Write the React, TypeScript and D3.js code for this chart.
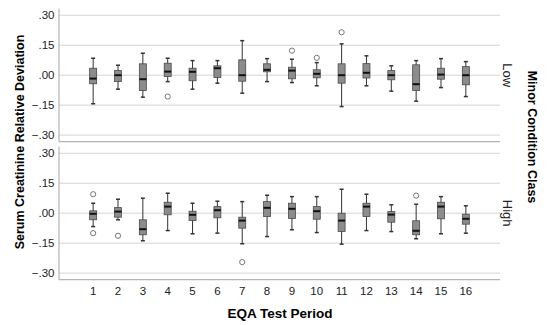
import React, { useEffect, useRef } from 'react';
import * as d3 from 'd3';

// EQA periods along the x axis
const periods = ['1', '2', '3', '4', '5', '6', '7', '8', '9', '10', '11', '12', '13', '14', '15', '16'];
const classes = ['Low', 'High'];
const yTicks = [0.3, 0.15, 0, -0.15, -0.3];

// Low minor condition class
const lowMax = [0.085, 0.05, 0.11, 0.085, 0.073, 0.073, 0.173, 0.083, 0.08, 0.063, 0.157, 0.097, 0.047, 0.073, 0.083, 0.068];
const lowQ3 = [0.035, 0.023, 0.057, 0.06, 0.035, 0.047, 0.077, 0.057, 0.04, 0.027, 0.057, 0.058, 0.023, 0.052, 0.035, 0.043];
const lowMedian = [-0.017, 0.0, -0.02, 0.018, 0.017, 0.035, 0.0, 0.027, 0.023, 0.007, 0.0, 0.012, 0.0, -0.045, 0.003, 0.0];
const lowQ1 = [-0.043, -0.032, -0.077, -0.007, -0.028, -0.012, -0.03, 0.017, -0.018, -0.013, -0.04, -0.014, -0.023, -0.077, -0.02, -0.048];
const lowMin = [-0.143, -0.07, -0.11, -0.032, -0.07, -0.04, -0.09, -0.032, -0.037, -0.053, -0.157, -0.053, -0.08, -0.13, -0.062, -0.107];
const lowOutliers = [[], [], [], [-0.107], [], [], [], [], [0.123], [0.087], [0.215], [], [], [], [], []];

// High minor condition class
const highMax = [0.05, 0.07, 0.075, 0.1, 0.05, 0.06, 0.058, 0.09, 0.083, 0.083, 0.12, 0.095, 0.042, 0.045, 0.083, 0.037];
const highQ3 = [0.012, 0.028, -0.033, 0.055, 0.01, 0.033, -0.02, 0.058, 0.05, 0.033, 0.0, 0.05, 0.008, -0.038, 0.055, -0.005];
const highMedian = [-0.003, 0.008, -0.08, 0.033, -0.008, 0.015, -0.037, 0.027, 0.022, 0.01, -0.037, 0.033, -0.007, -0.088, 0.033, -0.028];
const highQ1 = [-0.033, -0.02, -0.108, -0.008, -0.037, -0.023, -0.075, -0.017, -0.027, -0.03, -0.092, -0.017, -0.045, -0.108, -0.028, -0.055];
const highMin = [-0.067, -0.033, -0.138, -0.087, -0.103, -0.1, -0.153, -0.117, -0.083, -0.097, -0.155, -0.087, -0.092, -0.128, -0.103, -0.1];
const highOutliers = [[0.095, -0.1], [-0.113], [], [], [], [], [-0.245], [], [], [], [], [], [], [0.088], [], []];

const FONT = '"Liberation Sans", Arial, sans-serif';

function App() {
    const ref = useRef<SVGSVGElement | null>(null);

    useEffect(() => {
        const left = 59;
        const right = 500;
        const panelH = 133;
        const panelTops = [8.7, 146.7];

        const svg = d3.select(ref.current);
        svg.selectAll('*').remove();

        const x = d3.scalePoint<string>().domain(periods).range([left, right]).padding(1.375);

        const panels = [
            { max: lowMax, q3: lowQ3, med: lowMedian, q1: lowQ1, min: lowMin, out: lowOutliers },
            { max: highMax, q3: highQ3, med: highMedian, q1: highQ1, min: highMin, out: highOutliers },
        ];

        panels.forEach((p, pi) => {
            const top = panelTops[pi];
            const y = d3.scaleLinear().domain([-0.333, 0.333]).range([top + panelH, top]);
            const g = svg.append('g');

            // gridlines
            g.selectAll('.grid')
                .data(yTicks)
                .enter()
                .append('line')
                .attr('x1', left)
                .attr('x2', right)
                .attr('y1', d => y(d))
                .attr('y2', d => y(d))
                .attr('stroke', '#d6d6d6')
                .attr('stroke-width', 1);

            // frame: left axis + bottom line
            g.append('line')
                .attr('x1', left).attr('x2', left)
                .attr('y1', top).attr('y2', top + panelH)
                .attr('stroke', '#b4b4b4').attr('stroke-width', 1.2);
            g.append('line')
                .attr('x1', left).attr('x2', right)
                .attr('y1', top + panelH).attr('y2', top + panelH)
                .attr('stroke', '#b4b4b4').attr('stroke-width', 1.2);

            // tick labels
            g.selectAll('.ylab')
                .data(yTicks)
                .enter()
                .append('text')
                .attr('x', left - 4.5)
                .attr('y', d => y(d))
                .attr('dy', '0.35em')
                .attr('text-anchor', 'end')
                .style('font-family', FONT)
                .style('font-size', '11.5px')
                .attr('fill', '#222')
                .text(d => d3.format('.2f')(d).replace('0.', '.'));

            // facet label
            g.append('text')
                .attr('transform', `translate(${508}, ${top + panelH / 2}) rotate(90)`)
                .attr('text-anchor', 'middle')
                .attr('dy', '0.35em')
                .style('font-family', FONT)
                .style('font-size', '13px')
                .attr('fill', '#222')
                .text(classes[pi]);

            const boxW = 7;
            const capW = 4;
            const boxes = g.selectAll('.box')
                .data(periods)
                .enter()
                .append('g')
                .attr('transform', d => `translate(${x(d)},0)`);

            boxes.append('line')
                .attr('x1', 0).attr('x2', 0)
                .attr('y1', (d, i) => y(p.max[i]))
                .attr('y2', (d, i) => y(p.min[i]))
                .attr('stroke', '#333').attr('stroke-width', 1);
            boxes.append('line')
                .attr('x1', -capW / 2).attr('x2', capW / 2)
                .attr('y1', (d, i) => y(p.max[i])).attr('y2', (d, i) => y(p.max[i]))
                .attr('stroke', '#333').attr('stroke-width', 1.5);
            boxes.append('line')
                .attr('x1', -capW / 2).attr('x2', capW / 2)
                .attr('y1', (d, i) => y(p.min[i])).attr('y2', (d, i) => y(p.min[i]))
                .attr('stroke', '#333').attr('stroke-width', 1.5);
            boxes.append('rect')
                .attr('x', -boxW / 2)
                .attr('width', boxW)
                .attr('y', (d, i) => y(p.q3[i]))
                .attr('height', (d, i) => y(p.q1[i]) - y(p.q3[i]))
                .attr('fill', '#8c8c8c')
                .attr('stroke', '#4a4a4a')
                .attr('stroke-width', 0.8);
            boxes.append('line')
                .attr('x1', -boxW / 2).attr('x2', boxW / 2)
                .attr('y1', (d, i) => y(p.med[i])).attr('y2', (d, i) => y(p.med[i]))
                .attr('stroke', '#111').attr('stroke-width', 2);
            boxes.each(function (d, i) {
                d3.select(this).selectAll('circle')
                    .data(p.out[i])
                    .enter()
                    .append('circle')
                    .attr('cx', 0)
                    .attr('cy', v => y(v))
                    .attr('r', 2.6)
                    .attr('fill', 'none')
                    .attr('stroke', '#777')
                    .attr('stroke-width', 1);
            });
        });

        // x tick labels
        svg.selectAll('.xlab')
            .data(periods)
            .enter()
            .append('text')
            .attr('x', d => x(d) as number)
            .attr('y', 295)
            .attr('text-anchor', 'middle')
            .style('font-family', FONT)
            .style('font-size', '11.5px')
            .attr('fill', '#222')
            .text(d => d);

        // axis titles
        svg.append('text')
            .attr('x', 280)
            .attr('y', 318)
            .attr('text-anchor', 'middle')
            .style('font-family', FONT)
            .style('font-size', '13.5px')
            .style('font-weight', 'bold')
            .text('EQA Test Period');

        svg.append('text')
            .attr('transform', `translate(20, 142) rotate(-90)`)
            .attr('text-anchor', 'middle')
            .attr('dy', '0.35em')
            .style('font-family', FONT)
            .style('font-size', '12.5px')
            .style('font-weight', 'bold')
            .text('Serum Creatinine Relative Deviation');

        svg.append('text')
            .attr('transform', `translate(532, 137) rotate(90)`)
            .attr('text-anchor', 'middle')
            .attr('dy', '0.35em')
            .style('font-family', FONT)
            .style('font-size', '12.5px')
            .style('font-weight', 'bold')
            .text('Minor Condition Class');
    }, []);

    return (
        <svg
            ref={ref}
            width={550}
            height={325}
            style={{ position: 'absolute', left: 0, top: 0, background: '#fff' }}
        />
    );
}

export default App;
